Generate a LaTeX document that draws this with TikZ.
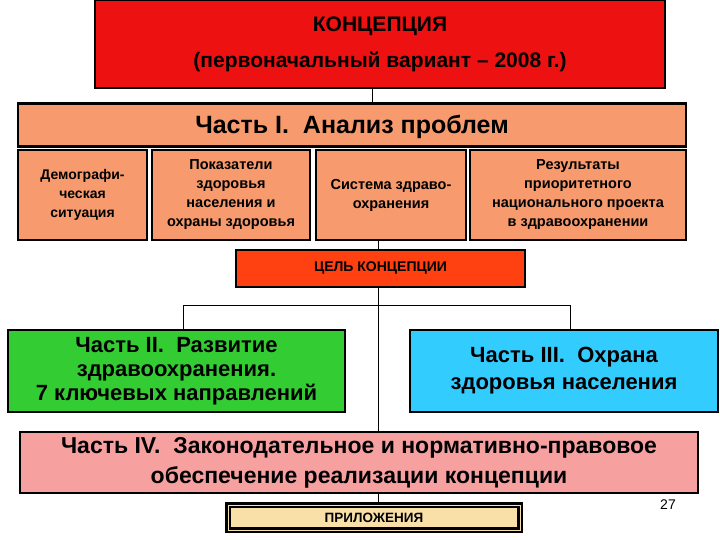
\documentclass[tikz,border=0pt]{standalone}
\usepackage{fontspec}
\setmainfont{Liberation Sans}
\begin{document}
\begin{tikzpicture}[x=1pt,y=-1pt,
 bx/.style={draw=black,line width=1.6pt,align=center,font=\bfseries,inner sep=0pt},
 down/.style={execute at begin node={\rule{0pt}{#1}}},
 ln/.style={draw=black,line width=1pt}]
\useasboundingbox (0,0) rectangle (720,540);
\definecolor{cred}{HTML}{EE1111}
\definecolor{csal}{HTML}{F79A6E}
\definecolor{cgoal}{HTML}{FF4010}
\definecolor{cgreen}{HTML}{33CC33}
\definecolor{cblue}{HTML}{33CCFF}
\definecolor{cpink}{HTML}{F7A0A0}
\definecolor{capp}{HTML}{F8E0A8}
\node[bx,fill=cred,minimum width=570pt,minimum height=88pt,down=34pt,font=\bfseries\fontsize{21}{36}\selectfont] (top) at (380,44) {КОНЦЕПЦИЯ\\(первоначальный вариант – 2008 г.)};
\node[bx,fill=csal,minimum width=668pt,minimum height=43pt,down=22pt,font=\bfseries\fontsize{25}{28}\selectfont,line width=2.4pt] (p1) at (352,125) {Часть I.\ \ Анализ проблем};
\node[bx,fill=csal,minimum width=129pt,minimum height=90pt,down=24pt,font=\bfseries\fontsize{14}{19}\selectfont] (a) at (82.5,195) {Демографи-\\ческая\\ситуация};
\node[bx,fill=csal,minimum width=158pt,minimum height=90pt,down=22pt,font=\bfseries\fontsize{14.5}{19}\selectfont] (b) at (231,195) {Показатели\\здоровья\\населения и\\охраны здоровья};
\node[bx,fill=csal,minimum width=150pt,minimum height=90pt,down=24pt,font=\bfseries\fontsize{14.5}{19}\selectfont] (c) at (391,195) {Система здраво-\\охранения};
\node[bx,fill=csal,minimum width=216pt,minimum height=90pt,down=22pt,font=\bfseries\fontsize{14.5}{19}\selectfont] (d) at (578,195) {Результаты\\приоритетного\\национального проекта\\в здравоохранении};
\node[bx,fill=cgoal,minimum width=289pt,minimum height=37pt,line width=2.4pt,font=\bfseries\fontsize{14}{16}\selectfont] (goal) at (380.5,268.5) {ЦЕЛЬ КОНЦЕПЦИИ};
\node[bx,fill=cgreen,minimum width=337pt,minimum height=82pt,down=24pt,font=\bfseries\fontsize{22}{24}\selectfont] (g) at (176.5,371) {Часть II.\ \ Развитие\\здравоохранения.\\7 ключевых направлений};
\node[bx,fill=cblue,minimum width=308pt,minimum height=82pt,down=24pt,font=\bfseries\fontsize{22}{27}\selectfont] (bl) at (564,371) {Часть III.\ \ Охрана\\здоровья населения};
\node[bx,fill=cpink,minimum width=678pt,minimum height=61pt,down=26pt,font=\bfseries\fontsize{23}{30}\selectfont] (p4) at (359,462.5) {Часть IV.\ \ Законодательное и нормативно-правовое\\обеспечение реализации концепции};
\node[bx,fill=capp,minimum width=292pt,minimum height=25pt,line width=2.4pt,font=\bfseries\fontsize{13.5}{15}\selectfont,double=capp,double distance=1pt] (app) at (374,517.5) {ПРИЛОЖЕНИЯ};
\node[font=\fontsize{14}{16}\selectfont] (num) at (668,505) {27};
\draw[ln] (top.south -| 372,0) -- (p1.north -| 372,0);
\draw[ln] (c.south -| 378,0) -- (goal.north -| 378,0);
\draw[ln] (goal.south -| 378,0) -- (p4.north -| 378,0);
\draw[ln] (g.north -| 183,0) -- (183,305) -- (570,305) -- (bl.north -| 570,0);
\draw[ln] (p4.south -| 378,0) -- (app.north -| 378,0);
\end{tikzpicture}
\end{document}
